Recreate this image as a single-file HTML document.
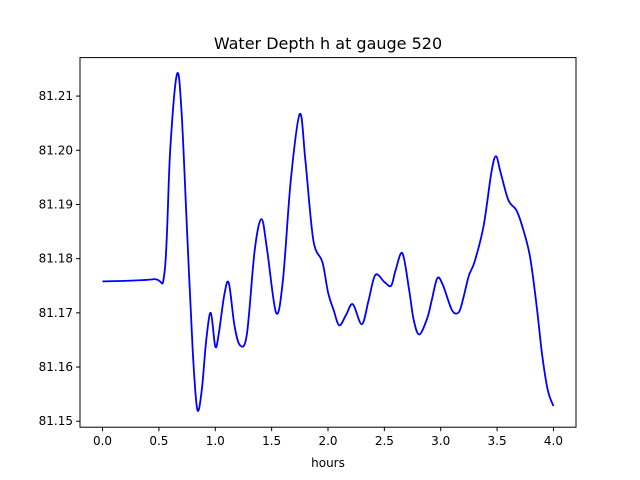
<!DOCTYPE html>
<html><head><meta charset="utf-8"><style>body{margin:0;background:#fff}svg{display:block;font-family:"DejaVu Sans","Liberation Sans",sans-serif}</style></head>
<body>
<svg id="chart" width="640" height="480"></svg>
<script>
const hours=[0,0.45,0.55,0.6,0.66,0.7,0.75,0.8,0.84,0.88,0.92,0.96,1.0,1.03,1.08,1.12,1.17,1.22,1.28,1.35,1.41,1.46,1.54,1.6,1.67,1.75,1.8,1.87,1.95,2.0,2.05,2.1,2.16,2.22,2.3,2.36,2.42,2.5,2.56,2.6,2.66,2.72,2.76,2.81,2.88,2.92,2.97,3.02,3.1,3.16,3.2,3.25,3.3,3.38,3.45,3.49,3.53,3.6,3.67,3.72,3.79,3.85,3.9,3.95,4.0];
const depth=[81.1758,81.1762,81.1775,81.200,81.214,81.2074,81.185,81.163,81.1522,81.1557,81.165,81.170,81.1638,81.166,81.1733,81.1755,81.1677,81.164,81.166,81.1816,81.1873,81.1816,81.170,81.176,81.1945,81.2067,81.198,81.1834,81.1794,81.1738,81.1705,81.1677,81.1696,81.1716,81.1679,81.1723,81.177,81.1757,81.175,81.1779,81.181,81.1742,81.1687,81.166,81.169,81.1723,81.1764,81.1751,81.1705,81.1701,81.1727,81.1769,81.1794,81.186,81.196,81.1989,81.196,81.1908,81.189,81.1862,81.1806,81.1714,81.1622,81.1557,81.1528];
const xTicks=[0,0.5,1,1.5,2,2.5,3,3.5,4];
const yTicks=[81.15,81.16,81.17,81.18,81.19,81.20,81.21];
const L=80,R=576,T=57.6,B=427.2,xMin=-0.2,xMax=4.2,yMin=81.1489,yMax=81.2171;
const sx=v=>L+(v-xMin)/(xMax-xMin)*(R-L);
const sy=v=>B-(v-yMin)/(yMax-yMin)*(B-T);
const svg=document.getElementById('chart');const NS='http://www.w3.org/2000/svg';
function mk(t,a,p){const e=document.createElementNS(NS,t);for(const k in a)e.setAttribute(k,a[k]);(p||svg).appendChild(e);return e;}
const title=mk('text',{x:328,y:49,'text-anchor':'middle','font-size':16});title.textContent='Water Depth h at gauge 520';


xTicks.forEach(v=>{const x=sx(v);mk('line',{x1:x,x2:x,y1:B,y2:B+4,stroke:'#000'});const t=mk('text',{x:x,y:B+18,'text-anchor':'middle','font-size':12});t.textContent=v.toFixed(1);

});
yTicks.forEach(v=>{const y=sy(v);mk('line',{x1:L-4,x2:L,y1:y,y2:y,stroke:'#000'});const t=mk('text',{x:L-7,y:y+4,'text-anchor':'end','font-size':12});t.textContent=v.toFixed(2);

});
const xl=mk('text',{x:328,y:467,'text-anchor':'middle','font-size':12});xl.textContent='hours';


const P=hours.map((h,i)=>[sx(h),sy(depth[i])]);
let d='M'+P[0][0]+','+P[0][1];
for(let i=0;i<P.length-1;i++){const p0=P[Math.max(0,i-1)],p1=P[i],p2=P[i+1],p3=P[Math.min(P.length-1,i+2)];
d+=' C'+(p1[0]+(p2[0]-p0[0])/6)+','+(p1[1]+(p2[1]-p0[1])/6)+' '+(p2[0]-(p3[0]-p1[0])/6)+','+(p2[1]-(p3[1]-p1[1])/6)+' '+p2[0]+','+p2[1];}
const line=mk('path',{d:d,fill:'none',stroke:'#0000ff','stroke-width':1.8});


const frame=mk('rect',{x:L,y:T,width:R-L,height:B-T,fill:'none',stroke:'#000','stroke-width':1});


</script>
</body></html>
